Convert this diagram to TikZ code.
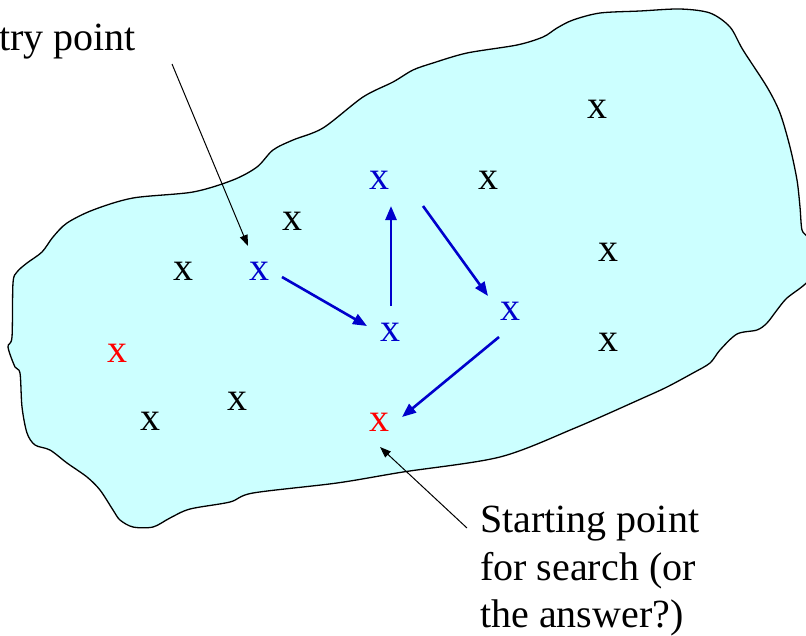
\documentclass[tikz,border=0pt]{standalone}
\usepackage{fontspec}
\setmainfont{LiberationSerif-Regular.ttf}
\usetikzlibrary{arrows.meta}
\definecolor{blobfill}{HTML}{CCFFFF}
\definecolor{ptblue}{HTML}{0000CC}
\definecolor{ptred}{HTML}{FF0000}
\begin{document}
\begin{tikzpicture}[x=1pt,y=-1pt,
  big/.style={font=\rmfamily\fontsize{40}{47.5}\selectfont},
  pt/.style={big,inner sep=0pt},
  blackpt/.style={pt,text=black},
  bluept/.style={pt,text=ptblue},
  redpt/.style={pt,text=ptred},
  barrow/.style={draw=ptblue,line width=2.6pt,-{Triangle[length=14pt,width=11pt]}},
  karrow/.style={draw=black,line width=1pt,-{Triangle[length=11pt,width=8pt]}},
  blob/.style={draw=black,line width=1.3pt,fill=blobfill}]
\useasboundingbox (0,0) rectangle (806,635);
\clip (0,0) rectangle (806,635);
\path[blob] plot[smooth cycle,tension=0.5] coordinates {
(573,20) (600,13) (640,11) (680,9) (710,13) (730,27) (743,50) (767,87)
(780,113) (790,147) (797,180) (800,207) (802,230) (808,238) (814,260) (808,281)
(787,298) (777,310) (767,323) (757,330) (737,334) (720,350) (710,363) (693,373)
(667,387) (643,398) (575,428) (500,457) (403,472) (337,483) (253,493) (230,502)
(190,509) (170,518) (153,527) (133,527) (120,520) (113,510) (100,490) (87,477)
(67,463) (50,450) (35,445) (27,433) (22,407) (20,373) (15,367) (8,347)
(12,337) (13,283) (17,272) (27,263) (42,252) (53,237) (67,223) (93,210)
(133,198) (193,192) (233,180) (257,167) (273,150) (293,140) (323,128) (363,97)
(393,82) (413,70) (433,63) (467,53) (517,45) (543,37) (557,28)};
% points
\node[blackpt] (k1) at (597,109) {x};
\node[blackpt] (k2) at (488,180) {x};
\node[blackpt] (k3) at (292,221) {x};
\node[blackpt] (k4) at (183,271) {x};
\node[blackpt] (k5) at (608,252) {x};
\node[blackpt] (k6) at (608,342) {x};
\node[blackpt] (k7) at (150,421) {x};
\node[blackpt] (k8) at (237,401) {x};
\node[bluept] (b1) at (259,271) {x};
\node[bluept] (b2) at (390,332) {x};
\node[bluept] (b3) at (379,180) {x};
\node[bluept] (b4) at (510,311) {x};
\node[redpt] (r1) at (117,353) {x};
\node[redpt] (r2) at (379,422) {x};
% labels
\node[big,inner sep=0pt,anchor=base east] (entry) at (136,50) {try point};
\node[big,inner sep=0pt,anchor=north west,align=left] (start) at (480,506)
  {Starting point\\for search (or\\the answer?)};
% blue search path
\draw[barrow] ([shift={(23,6)}]b1.center) -- ([shift={(-23,-6)}]b2.center);
\draw[barrow] ([shift={(1,-26)}]b2.center) -- ([shift={(12,26)}]b3.center);
\draw[barrow] ([shift={(44,26)}]b3.center) -- ([shift={(-22,-15)}]b4.center);
\draw[barrow] ([shift={(-11,26)}]b4.center) -- ([shift={(23,-5)}]r2.center);
% label arrows
\draw[karrow] ([shift={(36,14)}]entry.base east) -- ([shift={(-11,-25)}]b1.center);
\draw[karrow] ([shift={(-13,22)}]start.north west) -- ([shift={(1,25)}]r2.center);
\end{tikzpicture}
\end{document}
